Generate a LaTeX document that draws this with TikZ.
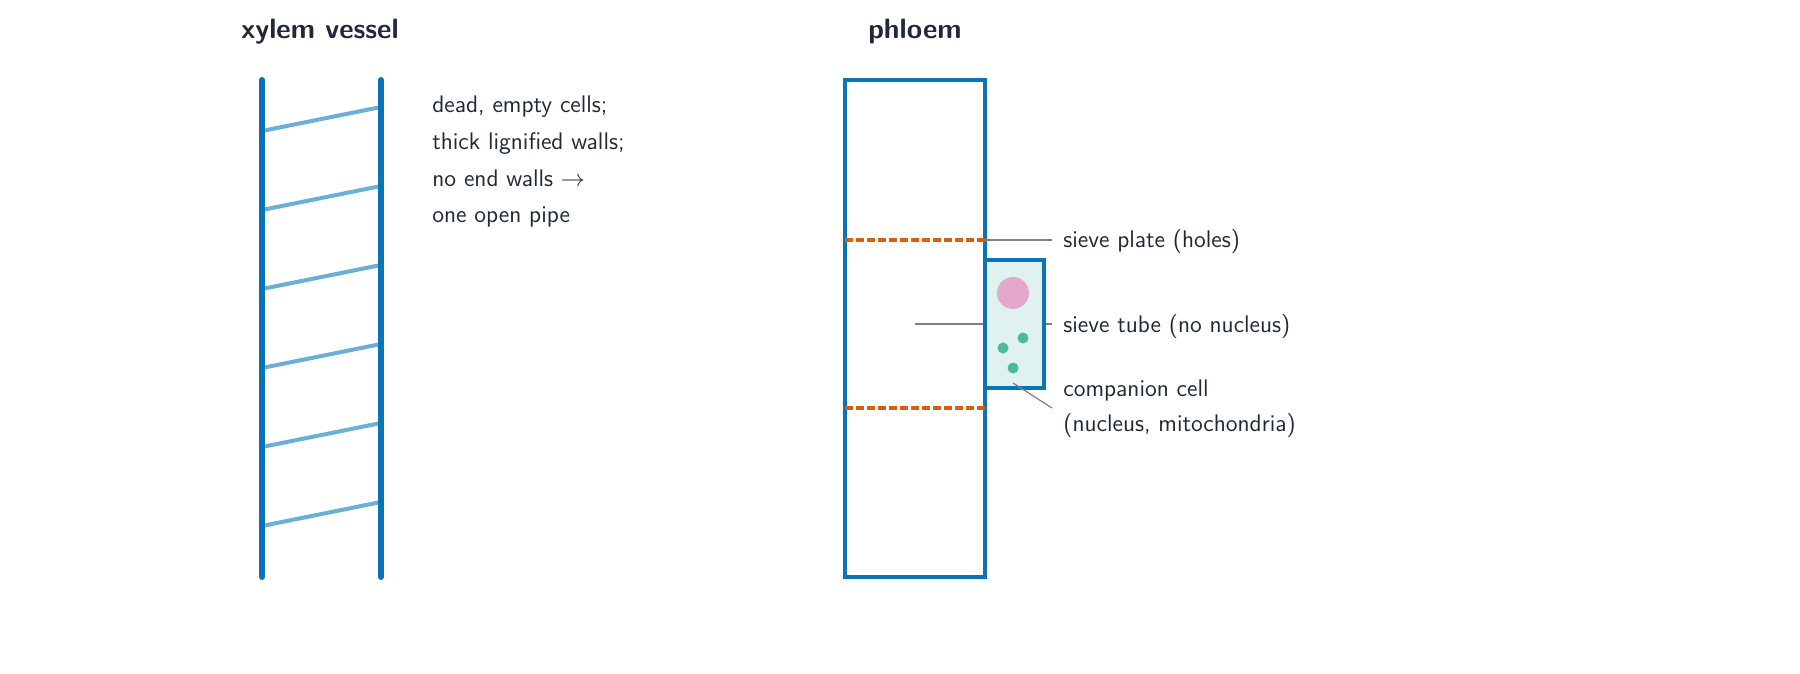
\documentclass[tikz,border=0pt]{standalone}
\usepackage{amssymb}
\renewcommand{\familydefault}{\sfdefault}
\definecolor{wall}{HTML}{0B74B8}
\definecolor{rung}{HTML}{6BAED6}
\definecolor{txt}{HTML}{1F2937}
\definecolor{plate}{HTML}{D95F0E}
\definecolor{cc}{HTML}{E0F2EF}
\definecolor{nuc}{HTML}{E3A8CB}
\definecolor{mito}{HTML}{4CB99B}
\begin{document}
\begin{tikzpicture}[x=0.5pt,y=-0.5pt,
  wallline/.style={wall,line width=3pt,line cap=round},
  rungline/.style={rung,line width=2pt,line cap=round},
  lbl/.style={anchor=base west,text=txt,font=\fontsize{12}{14}\selectfont,inner sep=0pt},
  ttl/.style={text=txt,font=\fontsize{14}{16}\selectfont\bfseries,inner sep=0pt},
  leader/.style={gray,line width=0.6pt},
  plateline/.style={plate,line width=2pt,dash pattern=on 4pt off 1.5pt}]
\useasboundingbox (0,0) rectangle (1800,674);
\node[ttl] (tx) at (320,32) {xylem vessel};
\node[ttl] (tp) at (915,32) {phloem};
\foreach \a/\b in {131/107,210/186,289/265,368/344,447/423,526/502}
  \draw[rungline] (262,\a) -- (381,\b);
\draw[wallline] (262,80) -- (262,577);
\draw[wallline] (381,80) -- (381,577);
\node[lbl] (t1) at (432,113) {dead, empty cells;};
\node[lbl] (t2) at (432,149) {thick lignified walls;};
\node[lbl] (t3) at (432,186) {no end walls $\to$};
\node[lbl] (t4) at (432,222) {one open pipe};
% phloem
\draw[leader] (915,324) -- (1052,324);
\draw[wall,line width=2pt,fill=cc] (985,260) rectangle (1044,388);
\fill[nuc] (1013,293) circle (16);
\fill[mito] (1023,338) circle (5.5) (1003,348) circle (5.5) (1013,368) circle (5.5);
\draw[wall,line width=2pt] (845,80) rectangle (985,577);
\draw[plateline] (845,240) -- (985,240);
\draw[plateline] (845,408) -- (985,408);
\draw[leader] (985,240) -- (1052,240);
\draw[leader] (1013,383) -- (1052,408);
\node[lbl] (s1) at (1063,248) {sieve plate (holes)};
\node[lbl] (s2) at (1063,332) {sieve tube (no nucleus)};
\node[lbl] (s3) at (1063,396) {companion cell};
\node[lbl] (s4) at (1063,431) {(nucleus, mitochondria)};
\end{tikzpicture}
\end{document}
